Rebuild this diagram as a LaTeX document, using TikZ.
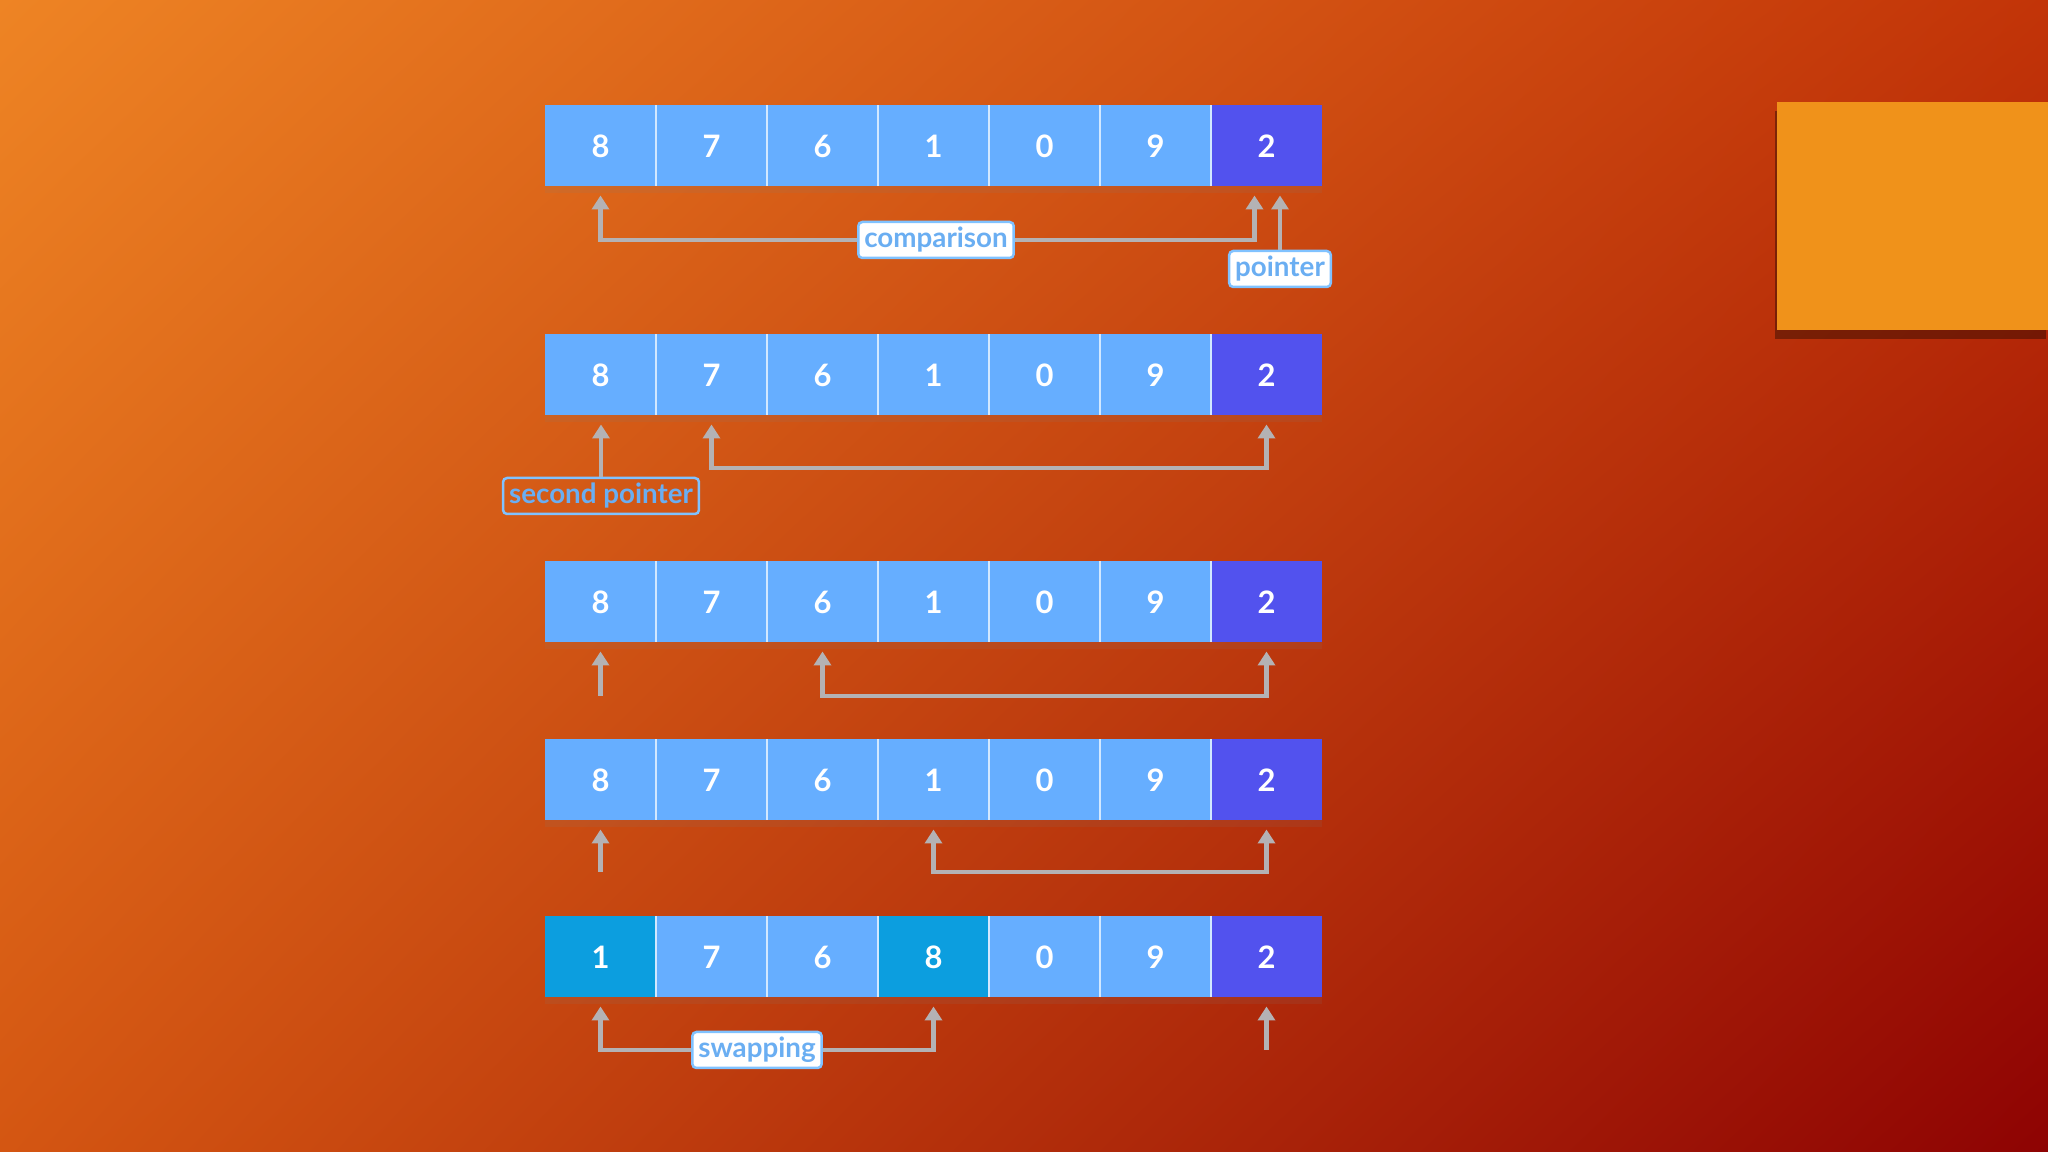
\documentclass[tikz,border=0pt]{standalone}
\usepackage{fontspec}
\setmainfont{Lato}
\usepackage{xcolor}
\usepackage{tikz}
\usetikzlibrary{arrows.meta,shadows,shadings,calc}

\definecolor{bgTL}{HTML}{EE8424}
\definecolor{bgTR}{HTML}{C23408}
\definecolor{bgBL}{HTML}{D45612}
\definecolor{bgBR}{HTML}{8E0303}
\definecolor{cellblue}{HTML}{66AEFF}
\definecolor{pivotblue}{HTML}{5252EE}
\definecolor{swapblue}{HTML}{0C9EDF}
\definecolor{sepblue}{HTML}{D2E8FF}
\definecolor{arrowgray}{HTML}{B4B2B4}
\definecolor{tagline}{HTML}{80C2FF}
\definecolor{tagtext}{HTML}{6AAEF2}
\definecolor{boxorange}{HTML}{F0921A}

\begin{document}
\begin{tikzpicture}[
    x=0.1mm, y=-0.1mm,
    cell/.style={rectangle, fill=cellblue, text=white,
        minimum width=11.1mm, minimum height=8.1mm,
        inner sep=0pt, outer sep=0pt,
        font=\bfseries\fontsize{8.8}{10}\selectfont,
        drop shadow={shadow xshift=0mm, shadow yshift=-0.7mm, opacity=.12}},
    pivot/.style={cell, fill=pivotblue},
    swapped/.style={cell, fill=swapblue},
    sep/.style={draw=sepblue, line width=0.2mm},
    tag/.style={draw=tagline, line width=0.25mm, fill=white, text=tagtext,
        rounded corners=0.4mm, inner xsep=0.6mm, inner ysep=0.45mm,
        text height=2.1mm, text depth=0.6mm,
        font=\bfseries\fontsize{7.9}{9}\selectfont},
    hollowtag/.style={tag, fill=none},
    ptr/.style={-{Triangle[length=1.4mm,width=1.7mm]}, draw=arrowgray,
        line width=0.45mm, shorten >=0.9mm},
    dptr/.style={{Triangle[length=1.4mm,width=1.7mm]}-{Triangle[length=1.4mm,width=1.7mm]},
        draw=arrowgray, line width=0.45mm, shorten >=0.9mm, shorten <=0.9mm},
    orangebox/.style={fill=boxorange,
        drop shadow={shadow xshift=-0.2mm, shadow yshift=-0.9mm, opacity=.35, fill=black}}
]
\useasboundingbox (0,0) rectangle (2048,1152);
\shade[upper left=bgTL, upper right=bgTR, lower left=bgBL, lower right=bgBR]
    (0,0) rectangle (2048,1152);
\path[orangebox] (1777,102) rectangle (2048,330);

\foreach \r/\y in {1/146,2/375,3/602,4/780} {
    \foreach \v [count=\i from 0] in {8,7,6,1,0,9}
        \node[cell] (r\r-\i) at ({600.5+111*\i},\y) {\v};
    \node[pivot] (r\r-6) at (1266.5,\y) {2};
}
\foreach \v/\s [count=\i from 0] in {1/swapped,7/cell,6/cell,8/swapped,0/cell,9/cell,2/pivot}
    \node[\s] (r5-\i) at ({600.5+111*\i},957) {\v};
\foreach \r in {1,...,5}
    \foreach \i in {0,...,5}
        \draw[sep] (r\r-\i.north east) -- (r\r-\i.south east);

\coordinate (b2) at (0,468);
\coordinate (b3) at (0,696);
\coordinate (b4) at (0,872);
\coordinate (b5) at (0,1050);

\node[tag] (cmp) at (936,240) {comparison};
\node[tag] (pnt) at (1280,269) {pointer};
\node[hollowtag] (spnt) at (601,496) {second pointer};
\node[tag] (swp) at (757,1050) {swapping};

\draw[ptr] (cmp.west) -| (r1-0.south);
\draw[ptr] (cmp.east) -| ($(r1-6.south)+(-12,0)$);
\draw[ptr] (pnt.north) -- (pnt.north |- r1-6.south);

\draw[ptr] (spnt.north) -- (spnt.north |- r2-0.south);
\draw[dptr] (r2-1.south) -- (r2-1.south |- b2) -| (r2-6.south);

\draw[ptr] (r3-0.south |- b3) -- (r3-0.south);
\draw[dptr] (r3-2.south) -- (r3-2.south |- b3) -| (r3-6.south);

\draw[ptr] (r4-0.south |- b4) -- (r4-0.south);
\draw[dptr] (r4-3.south) -- (r4-3.south |- b4) -| (r4-6.south);

\draw[ptr] (swp.west) -| (r5-0.south);
\draw[ptr] (swp.east) -| (r5-3.south);
\draw[ptr] (r5-6.south |- b5) -- (r5-6.south);
\end{tikzpicture}
\end{document}
